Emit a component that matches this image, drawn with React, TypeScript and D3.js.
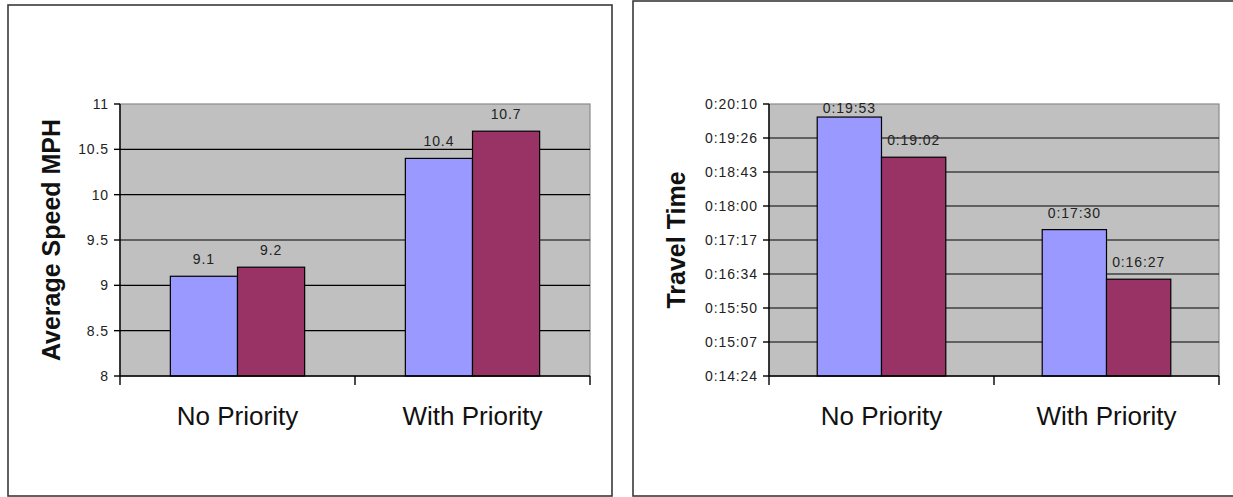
import { scaleBand, scaleLinear } from "d3";

const categories = ["No Priority", "With Priority"];
const seriesKeys = ["before", "after"];

// left chart: average speed (mph)
const speedBefore = [9.1, 10.4];
const speedAfter = [9.2, 10.7];
const speedTicks = [8, 8.5, 9, 9.5, 10, 10.5, 11];

// right chart: travel time (h:mm:ss)
const timeBefore = ["0:19:53", "0:17:30"];
const timeAfter = ["0:19:02", "0:16:27"];
// excel major unit 0.0005 day = 43.2 s
const timeTicks = ["0:14:24", "0:15:07.2", "0:15:50.4", "0:16:33.6", "0:17:16.8", "0:18:00", "0:18:43.2", "0:19:26.4", "0:20:09.6"];

const toSeconds = (s: string) => {
  const [h, m, sec] = s.split(":").map(Number);
  return h * 3600 + m * 60 + sec;
};
const fmtTime = (v: number) => {
  const t = Math.round(v);
  const h = Math.floor(t / 3600);
  const m = Math.floor((t % 3600) / 60);
  const s = t % 60;
  return `${h}:${String(m).padStart(2, "0")}:${String(s).padStart(2, "0")}`;
};

const FONT = "Arial, 'Liberation Sans', sans-serif";
const BLUE = "#9999ff";
const PLUM = "#993366";

type PanelProps = {
  frame: { x0: number; y0: number; x1: number; y1: number };
  plot: { left: number; right: number; top: number; bottom: number };
  ticks: number[];
  fmt: (v: number) => string;
  before: number[];
  after: number[];
  title: string;
  titleX: number;
};

function BarPanel({ frame, plot, ticks, fmt, before, after, title, titleX }: PanelProps) {
  const y = scaleLinear()
    .domain([ticks[0], ticks[ticks.length - 1]])
    .range([plot.bottom, plot.top]);
  const x = scaleBand().domain(categories).range([plot.left, plot.right]).padding(0);
  const inner = scaleBand().domain(seriesKeys).range([0, x.bandwidth()]).paddingInner(0).paddingOuter(0.75);
  const values = [before, after];
  const colors = [BLUE, PLUM];
  const midY = (plot.top + plot.bottom) / 2;

  return (
    <g>
      <rect
        x={frame.x0}
        y={frame.y0}
        width={frame.x1 - frame.x0}
        height={frame.y1 - frame.y0}
        fill="#fff"
        stroke="#3a3a3a"
        strokeWidth={1.6}
      />
      <rect
        x={plot.left}
        y={plot.top}
        width={plot.right - plot.left}
        height={plot.bottom - plot.top}
        fill="#c0c0c0"
        stroke="#8a8a8a"
        strokeWidth={1.2}
      />
      {ticks.slice(1, -1).map((t) => (
        <line key={t} x1={plot.left} x2={plot.right} y1={y(t)} y2={y(t)} stroke="#000" strokeWidth={1.2} />
      ))}
      {categories.map((c, ci) =>
        seriesKeys.map((k, si) => {
          const v = values[si][ci];
          const bx = (x(c) ?? 0) + (inner(k) ?? 0);
          const bw = inner.bandwidth();
          const top = y(v);
          const labelY = Math.max(top - 12, plot.top + 9);
          return (
            <g key={c + k}>
              <rect x={bx} y={top} width={bw} height={plot.bottom - top} fill={colors[si]} stroke="#000" strokeWidth={1.2} />
              <text
                x={bx + bw / 2}
                y={labelY}
                textAnchor="middle"
                fontFamily={FONT}
                fontSize={14}
                letterSpacing={0.9}
                fill="#222"
              >
                {fmt(v)}
              </text>
            </g>
          );
        })
      )}
      {/* value axis */}
      <line x1={plot.left} x2={plot.left} y1={plot.top} y2={plot.bottom} stroke="#000" strokeWidth={1.4} />
      {ticks.map((t) => (
        <g key={t}>
          <line x1={plot.left - 6} x2={plot.left} y1={y(t)} y2={y(t)} stroke="#000" strokeWidth={1.4} />
          <text
            x={plot.left - 11}
            y={y(t)}
            dy="0.36em"
            textAnchor="end"
            fontFamily={FONT}
            fontSize={14}
            letterSpacing={0.9}
            fill="#222"
          >
            {fmt(t)}
          </text>
        </g>
      ))}
      {/* category axis */}
      <line x1={plot.left} x2={plot.right} y1={plot.bottom} y2={plot.bottom} stroke="#000" strokeWidth={1.4} />
      {[...categories.map((c) => x(c) ?? 0), plot.right].map((px, i) => (
        <line key={i} x1={px} x2={px} y1={plot.bottom} y2={plot.bottom + 9} stroke="#000" strokeWidth={1.4} />
      ))}
      {categories.map((c) => (
        <text
          key={c}
          x={(x(c) ?? 0) + x.bandwidth() / 2}
          y={425}
          textAnchor="middle"
          fontFamily={FONT}
          fontSize={26}
          fill="#111"
        >
          {c}
        </text>
      ))}
      <text
        transform={`translate(${titleX},${midY}) rotate(-90)`}
        textAnchor="middle"
        fontFamily={FONT}
        fontSize={25}
        fontWeight="bold"
        fill="#111"
      >
        {title}
      </text>
    </g>
  );
}

export default function App() {
  return (
    <svg width={1233} height={497} style={{ position: "absolute", left: 0, top: 0, background: "#fff" }}>
      <BarPanel
        frame={{ x0: 8, y0: 5, x1: 612, y1: 496 }}
        plot={{ left: 120, right: 590, top: 104, bottom: 376 }}
        ticks={speedTicks}
        fmt={(v) => String(v)}
        before={speedBefore}
        after={speedAfter}
        title="Average Speed MPH"
        titleX={60}
      />
      <BarPanel
        frame={{ x0: 633, y0: 1, x1: 1245, y1: 496 }}
        plot={{ left: 769, right: 1219, top: 104, bottom: 376 }}
        ticks={timeTicks.map(toSeconds)}
        fmt={fmtTime}
        before={timeBefore.map(toSeconds)}
        after={timeAfter.map(toSeconds)}
        title="Travel Time"
        titleX={685}
      />
    </svg>
  );
}
